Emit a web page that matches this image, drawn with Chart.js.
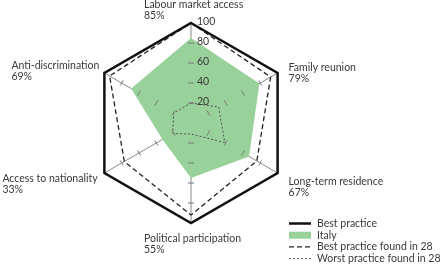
<!DOCTYPE html>
<html><head><meta charset="utf-8">
<script src="https://cdn.jsdelivr.net/npm/chart.js@4/dist/chart.umd.min.js"></script>
<style>html,body{margin:0;padding:0;background:#fff}#wrap{width:440px;height:264px}</style>
</head><body><div id="wrap"><canvas id="c"></canvas></div>
<script>
const categories = ['Labour market access','Family reunion','Long-term residence','Political participation','Access to nationality','Anti-discrimination'];
const bestPractice = [100,100,100,100,100,100];
const italy = [85,79,67,55,33,69];
const bestFound28 = [100,92,76,92,77,94];
const worstFound28 = [20,32,39,11,21,20];
const tickValues = [20,40,60,80,100];
const seriesNames = ['Best practice','Italy','Best practice found in 28','Worst practice found in 28'];

const FONT = '10.5px Lato, "Open Sans", sans-serif';
const TEXT = '#3a3a3a';
// label anchor offsets relative to each outer vertex: [dx to left edge, dy to first line centre]
const labelOffsets = [[-47,-18.5],[11,-5.5],[11,9],[-47,16],[-102,6],[-93,-7]];

const overlay = {
  id:'overlay',
  afterDraw(chart){
    const ctx = chart.ctx, s = chart.scales.r;
    ctx.save();
    ctx.strokeStyle = '#777'; ctx.lineWidth = 1;
    categories.forEach((c,i)=>{
      const a = s.getIndexAngle(i) - Math.PI/2;
      const px = -Math.sin(a), py = Math.cos(a);
      tickValues.slice(0,-1).forEach(v=>{
        const p = s.getPointPositionForValue(i,v);
        ctx.beginPath();
        ctx.moveTo(p.x - px*3, p.y - py*3);
        ctx.lineTo(p.x + px*3, p.y + py*3);
        ctx.stroke();
      });
    });
    ctx.font = FONT; ctx.fillStyle = TEXT; ctx.textBaseline = 'middle'; ctx.textAlign = 'left';
    tickValues.forEach(v=>{
      const p = s.getPointPositionForValue(0,v);
      ctx.fillText(String(v), p.x + 6, p.y - 1);
    });
    categories.forEach((c,i)=>{
      const p = s.getPointPositionForValue(i,100);
      const x = p.x + labelOffsets[i][0], y = p.y + labelOffsets[i][1];
      ctx.fillText(c, x, y);
      ctx.fillText(italy[i] + '%', x, y + 11);
    });
    const lx = chart.width - 151, ly = chart.height - 40.5, step = 11.7;
    chart.data.datasets.forEach((d,i)=>{
      const y = ly + i*step;
      if (d.fill) {
        ctx.fillStyle = d.backgroundColor;
        ctx.fillRect(lx, y-3.5, 22, 7);
      } else {
        ctx.beginPath();
        ctx.setLineDash(d.borderDash || []);
        ctx.strokeStyle = d.borderColor; ctx.lineWidth = d.borderWidth;
        ctx.moveTo(lx, y); ctx.lineTo(lx+22, y); ctx.stroke();
        ctx.setLineDash([]);
      }
      ctx.fillStyle = TEXT;
      ctx.fillText(d.label, lx + 28, y);
    });
    ctx.restore();
  }
};

new Chart(document.getElementById('c'), {
  type:'radar',
  data:{
    labels: categories,
    datasets:[
      {label:seriesNames[0], data:bestPractice, borderColor:'#111', borderWidth:2.5, fill:false, pointRadius:0, order:0},
      {label:seriesNames[1], data:italy, backgroundColor:'#99d19a', borderWidth:0, borderColor:'rgba(0,0,0,0)', fill:true, pointRadius:0, order:10},
      {label:seriesNames[2], data:bestFound28, borderColor:'#222', borderWidth:1.3, borderDash:[5,3], fill:false, pointRadius:0, order:1},
      {label:seriesNames[3], data:worstFound28, borderColor:'#555', borderWidth:1, borderDash:[2,2], fill:false, pointRadius:0, order:2}
    ]
  },
  options:{
    responsive:true, maintainAspectRatio:false, animation:false,
    layout:{padding:{left:91,right:149,top:23,bottom:41}},
    plugins:{legend:{display:false}, tooltip:{enabled:false}},
    elements:{line:{tension:0}},
    scales:{r:{
      min:0, max:100, z:1,
      ticks:{display:false, stepSize:20},
      grid:{display:false},
      angleLines:{display:true, color:'#8a8a8a', lineWidth:1},
      pointLabels:{display:false}
    }}
  },
  plugins:[overlay]
});
</script></body></html>
